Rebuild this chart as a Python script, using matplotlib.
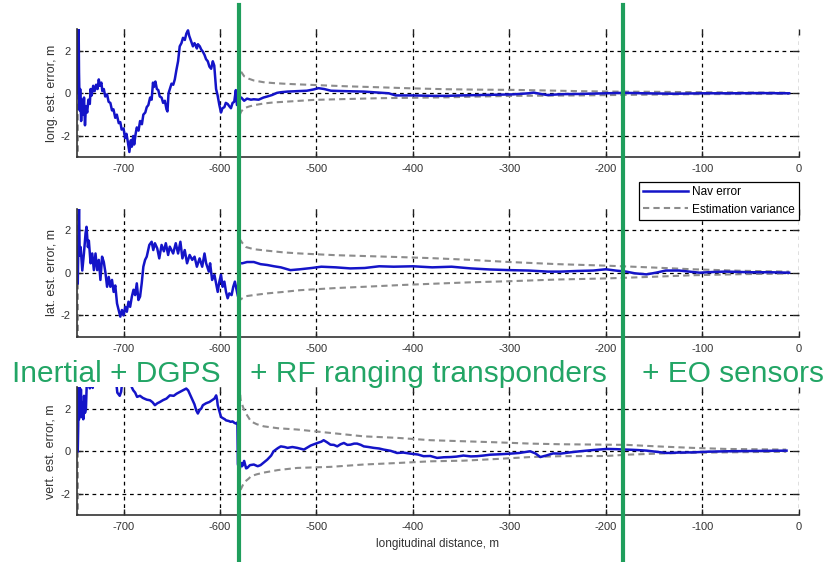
import matplotlib
matplotlib.use('Agg')
import matplotlib.pyplot as plt
from matplotlib.lines import Line2D
from matplotlib.transforms import blended_transform_factory

plt.rcParams['font.family'] = ['Liberation Sans', 'DejaVu Sans']
plt.rcParams['axes.unicode_minus'] = False

# --- datos ---
# longitudinal error (panel 1)
long_x = [-747.5, -747.0, -746.6, -746.2, -745.5, -745.0, -744.0, -743.0, -742.0, -741.0,
          -740.0, -739.0, -737.7, -736.5, -735.0, -734.2, -733.0, -731.5, -730.0, -728.5,
          -727.0, -725.7, -724.5, -723.0, -722.0, -720.5, -719.0, -717.1, -715.5, -713.7,
          -712.0, -710.5, -708.6, -707.0, -705.0, -703.4, -702.0, -700.0, -698.5, -697.0,
          -695.5, -694.0, -692.5, -691.4, -690.0, -689.0, -687.5, -686.3, -684.5, -682.9,
          -681.0, -679.5, -677.5, -676.0, -674.3, -672.5, -670.9, -669.5, -668.5, -667.0,
          -665.5, -664.0, -662.5, -660.6, -659.0, -657.2, -655.5, -654.5, -653.4, -652.0,
          -650.3, -648.5, -646.9, -645.2, -643.5, -641.8, -640.0, -638.4, -636.5, -634.9,
          -633.2, -632.0, -630.8, -629.5, -628.1, -626.5, -625.3, -624.0, -622.9, -621.0,
          -619.5, -617.8, -616.1, -614.5, -612.7, -611.0, -609.2, -607.5, -606.0, -604.8,
          -604.1, -602.5, -600.7, -599.0, -597.5, -595.5, -594.0, -592.1, -590.5, -588.7,
          -587.0, -585.3, -583.6, -582.5, -581.5, -580.5, -578.0, -575.0, -572.0, -568.0,
          -565.0, -560.0, -555.0, -551.0, -546.0, -541.0, -537.0, -530.0, -520.0, -510.0,
          -503.0, -498.0, -492.0, -485.0, -470.0, -451.0, -434.0, -425.0, -418.0, -400.0,
          -380.0, -365.0, -350.0, -330.0, -310.0, -296.0, -280.0, -275.0, -265.0, -261.0,
          -245.0, -227.0, -200.0, -182.0, -160.0, -130.0, -100.0, -70.0, -40.0, -10.0]
long_err = [0.0, 1.5, 3.2, 1.0, -0.8, 0.2, -1.3, -0.3, -1.0, -0.2,
            -1.5, -0.6, -0.9, -0.3, -0.5, 0.2, -0.1, 0.35, 0.1, 0.4,
            0.2, 0.65, 0.35, 0.5, 0.1, 0.2, -0.15, -0.05, -0.4, -0.45,
            -0.8, -0.75, -1.15, -1.0, -1.4, -1.35, -1.7, -1.65, -2.1, -1.9,
            -2.3, -2.75, -2.2, -2.5, -2.0, -2.4, -1.9, -1.6, -1.75, -1.3,
            -1.45, -1.0, -0.9, -0.65, -0.55, -0.2, -0.3, 0.5, 0.3, 0.55,
            0.2, 0.15, -0.15, -0.2, -0.45, -0.35, -0.75, -0.85, 0.0, 0.2,
            0.45, 0.4, 0.65, 1.1, 1.5, 2.2, 2.35, 2.6, 2.5, 2.8,
            2.95, 2.7, 2.55, 2.4, 2.2, 2.35, 2.25, 2.1, 2.3, 2.2,
            2.05, 1.95, 1.8, 1.6, 1.5, 1.25, 1.15, 1.5, 1.3, 0.6,
            0.2, -0.1, -0.55, -0.9, -0.7, -0.65, -0.45, -0.5, -0.6, -0.7,
            -0.45, -0.4, 0.15, -0.55, -0.5, -0.3, -0.2, -0.35, -0.25, -0.3,
            -0.28, -0.3, -0.2, -0.15, -0.08, 0.02, 0.05, 0.08, 0.1, 0.12,
            0.18, 0.24, 0.2, 0.12, 0.1, 0.08, 0.03, 0.0, -0.1, -0.1,
            -0.12, -0.12, -0.1, -0.08, -0.06, -0.05, 0.0, 0.03, -0.05, -0.08,
            -0.04, -0.03, 0.0, 0.02, 0.0, -0.02, 0.0, 0.0, 0.01, 0.0]
long_var_x = [-747.5, -745.0, -580.5, -580.0, -578.0, -575.0, -570.0, -565.0, -555.0, -545.0,
              -534.0, -520.0, -503.0, -470.0, -434.0, -400.0, -365.0, -330.0, -296.0, -260.0,
              -227.0, -190.0, -150.0, -100.0, -60.0, -10.0]
long_var_up = [0.0, 50.0, 50.0, 1.25, 1.0, 0.8, 0.68, 0.6, 0.52, 0.48,
               0.45, 0.42, 0.39, 0.33, 0.28, 0.23, 0.19, 0.17, 0.16, 0.13,
               0.1, 0.08, 0.07, 0.05, 0.04, 0.03]
long_var_lo = [0.0, -50.0, -50.0, -1.05, -0.85, -0.7, -0.62, -0.56, -0.48, -0.43,
               -0.4, -0.36, -0.31, -0.27, -0.23, -0.21, -0.19, -0.15, -0.12, -0.11,
               -0.1, -0.08, -0.06, -0.04, -0.035, -0.03]

# lateral error (panel 2)
lat_x = [-747.5, -747.0, -746.2, -745.5, -744.5, -742.8, -741.1, -739.4, -738.4, -737.0,
         -736.0, -734.2, -732.5, -730.8, -729.1, -727.4, -725.7, -724.0, -722.3, -720.5,
         -718.8, -717.1, -715.4, -713.7, -712.0, -710.3, -708.6, -706.8, -705.1, -703.4,
         -701.7, -700.0, -698.3, -696.6, -694.9, -693.2, -691.4, -689.7, -688.0, -686.3,
         -684.6, -682.9, -681.2, -679.5, -677.7, -676.0, -673.3, -670.9, -669.2, -667.5,
         -665.1, -663.0, -660.6, -658.2, -656.2, -653.8, -652.1, -648.6, -645.9, -643.5,
         -641.1, -639.0, -636.6, -634.2, -631.5, -628.8, -626.4, -624.0, -621.2, -618.5,
         -616.1, -614.4, -611.6, -610.3, -608.2, -605.8, -604.1, -602.4, -600.7, -599.0,
         -597.3, -595.5, -593.8, -592.1, -590.4, -588.0, -586.3, -584.6, -582.9, -581.5,
         -580.5, -577.0, -572.0, -565.0, -558.0, -551.0, -544.0, -537.0, -527.0, -517.0,
         -505.0, -495.0, -480.0, -465.0, -450.0, -435.0, -420.0, -400.0, -380.0, -360.0,
         -340.0, -320.0, -300.0, -280.0, -260.0, -247.0, -230.0, -213.0, -200.0, -190.0,
         -179.0, -170.0, -158.0, -148.0, -138.0, -124.0, -110.0, -103.0, -90.0, -76.0,
         -50.0, -30.0, -10.0]
lat_err = [-0.5, 1.0, 3.2, 0.8, 1.2, 0.1, 0.9, 1.85, 2.15, 1.2,
           1.5, 0.44, 0.9, 0.12, 0.9, 0.12, 0.6, -0.34, 0.75, 0.5,
           0.0, -0.66, -0.2, -0.66, -0.34, -0.9, -0.6, -1.44, -1.75, -2.06,
           -1.75, -2.0, -1.6, -1.83, -1.36, -1.6, -1.12, -0.8, -1.05, -0.5,
           -1.28, -1.12, -0.5, 0.28, 0.6, 0.75, 1.3, 1.45, 1.06, 1.38,
           1.14, 0.67, 1.3, 1.0, 1.38, 0.83, 1.22, 0.9, 1.38, 0.9,
           1.45, 0.67, 1.06, 0.44, 0.83, 0.6, 0.75, 0.28, 0.67, 0.28,
           0.9, 0.44, 0.05, 0.44, -0.34, -0.1, -0.5, -0.9, -0.42, -0.1,
           -0.66, -0.42, -0.9, -1.2, -0.97, -1.05, -0.66, -0.42, -0.8, -1.1,
           0.45, 0.44, 0.5, 0.5, 0.4, 0.36, 0.3, 0.25, 0.12, 0.16,
           0.22, 0.28, 0.25, 0.2, 0.22, 0.3, 0.28, 0.3, 0.25, 0.28,
           0.2, 0.15, 0.12, 0.1, 0.05, 0.05, 0.08, 0.1, 0.16, 0.1,
           0.05, -0.03, -0.08, 0.0, 0.1, 0.1, 0.03, 0.0, 0.03, 0.05,
           0.02, 0.02, 0.0]
lat_var_x = [-747.5, -745.0, -580.5, -580.0, -577.0, -573.0, -565.0, -551.0, -534.0, -517.0,
             -480.0, -450.0, -413.0, -380.0, -340.0, -300.0, -250.0, -200.0, -150.0, -110.0,
             -60.0, -10.0]
lat_var_up = [0.0, 50.0, 50.0, 1.6, 1.4, 1.2, 1.1, 1.03, 0.95, 0.9,
              0.82, 0.78, 0.73, 0.68, 0.6, 0.5, 0.4, 0.33, 0.24, 0.16,
              0.09, 0.05]
lat_var_lo = [0.0, -50.0, -50.0, -1.3, -1.2, -1.1, -1.05, -0.97, -0.9, -0.82,
              -0.72, -0.66, -0.58, -0.52, -0.45, -0.4, -0.32, -0.27, -0.19, -0.12,
              -0.07, -0.04]

# vertical error (panel 3)
vert_x = [-747.5, -747.0, -746.6, -746.2, -745.6, -745.0, -744.2, -743.4, -742.6, -741.8,
          -741.0, -740.0, -739.0, -738.0, -736.5, -735.0, -733.5, -732.0, -730.5, -710.0,
          -708.0, -706.5, -704.0, -702.5, -701.0, -693.0, -691.5, -690.0, -688.0, -686.0,
          -683.0, -680.0, -676.0, -672.6, -670.0, -667.5, -665.0, -662.3, -659.0, -655.5,
          -652.0, -648.0, -645.0, -641.0, -638.4, -635.0, -633.0, -631.5, -629.0, -626.5,
          -624.7, -623.0, -621.0, -619.5, -617.8, -614.5, -611.0, -608.0, -605.8, -604.0,
          -603.0, -602.4, -600.5, -599.0, -597.0, -595.0, -593.8, -591.0, -589.0, -587.0,
          -585.0, -583.6, -582.0, -581.5, -580.0, -578.0, -577.0, -575.0, -573.0, -571.8,
          -569.0, -565.0, -561.0, -558.0, -554.0, -551.0, -547.0, -544.5, -540.0, -537.0,
          -533.0, -530.0, -525.0, -520.0, -513.0, -506.0, -499.0, -495.0, -492.6, -489.0,
          -485.5, -482.0, -478.5, -475.0, -471.6, -468.0, -464.8, -461.0, -457.9, -454.0,
          -451.0, -446.0, -440.7, -435.0, -430.4, -423.0, -416.5, -410.0, -402.7, -395.0,
          -389.0, -382.0, -375.0, -368.0, -361.0, -355.0, -347.6, -340.0, -333.6, -327.0,
          -320.0, -310.0, -299.0, -290.0, -278.5, -273.0, -268.0, -262.0, -254.7, -247.0,
          -237.0, -227.0, -213.0, -199.0, -190.0, -178.0, -168.0, -157.7, -148.0, -137.0,
          -125.0, -109.5, -95.0, -75.0, -50.0, -12.7]
vert_err = [0.0, 1.2, 3.5, 1.5, 3.3, 1.7, 2.9, 1.6, 2.3, 1.5,
            2.6, 1.8, 2.0, 3.4, 3.5, 2.95, 3.3, 2.97, 3.5, 3.6,
            3.4, 2.75, 2.6, 2.8, 3.4, 3.5, 3.0, 2.86, 2.75, 2.55,
            2.6, 2.5, 2.42, 2.39, 2.3, 2.16, 2.25, 2.31, 2.4, 2.47,
            2.62, 2.6, 2.7, 2.8, 2.86, 2.94, 2.85, 2.7, 2.45, 2.2,
            1.92, 1.77, 1.95, 2.0, 2.16, 2.25, 2.31, 2.4, 2.47, 2.62,
            2.4, 2.16, 1.85, 1.61, 1.55, 1.5, 1.45, 1.42, 1.38, 1.4,
            1.33, 1.3, 1.35, -0.6, -0.9, -0.55, -0.7, -0.45, -0.8, -0.78,
            -0.65, -0.62, -0.7, -0.65, -0.5, -0.39, -0.2, 0.0, 0.15, 0.23,
            0.2, 0.16, 0.2, 0.16, 0.08, 0.27, 0.39, 0.45, 0.52, 0.42,
            0.31, 0.3, 0.23, 0.33, 0.39, 0.3, 0.31, 0.36, 0.36, 0.3,
            0.23, 0.2, 0.16, 0.13, 0.08, 0.02, -0.08, -0.06, -0.11, -0.15,
            -0.23, -0.22, -0.31, -0.28, -0.27, -0.25, -0.2, -0.24, -0.23, -0.2,
            -0.16, -0.14, -0.11, -0.08, 0.0, -0.1, -0.27, -0.2, -0.1, -0.11,
            -0.05, 0.0, 0.06, 0.11, 0.1, 0.08, 0.06, 0.03, -0.02, -0.08,
            -0.06, -0.05, -0.02, 0.0, 0.01, 0.03]
vert_var_x = [-747.5, -745.0, -580.5, -580.0, -578.7, -576.0, -573.5, -570.0, -568.0, -562.0,
              -554.8, -540.0, -520.0, -485.5, -451.0, -416.5, -382.0, -347.6, -313.0, -278.5,
              -247.0, -199.0, -178.0, -147.0, -110.0, -75.0, -13.0]
vert_var_up = [0.0, 50.0, 50.0, 3.2, 2.42, 2.05, 1.8, 1.55, 1.4, 1.27,
               1.17, 1.08, 1.02, 0.86, 0.7, 0.63, 0.52, 0.47, 0.42, 0.36,
               0.33, 0.31, 0.3, 0.23, 0.16, 0.11, 0.08]
vert_var_lo = [0.0, -50.0, -50.0, -2.6, -1.8, -1.55, -1.4, -1.27, -1.17, -1.08,
               -1.0, -0.88, -0.78, -0.73, -0.62, -0.55, -0.47, -0.44, -0.36, -0.27,
               -0.23, -0.22, -0.16, -0.11, -0.07, -0.05, -0.02]

panel_labels = ['long. est. error, m', 'lat. est. error, m', 'vert. est. error, m']
x_ticks = [-700, -600, -500, -400, -300, -200, -100, 0]
y_ticks = [-2, 0, 2]
sensor_switch = [-580, -182]   # donde se agregan RF y EO
phase_names = ['Inertial + DGPS', '+ RF ranging transponders', '+ EO sensors']

panels = [(long_x, long_err, long_var_x, long_var_up, long_var_lo),
          (lat_x, lat_err, lat_var_x, lat_var_up, lat_var_lo),
          (vert_x, vert_err, vert_var_x, vert_var_up, vert_var_lo)]

nav_color = '#1414c8'
var_color = '#8c8c8c'
green = '#1f9e5c'

fig = plt.figure(figsize=(8.3, 5.62), dpi=100)
bottoms = [0.7201, 0.4009, 0.0831]
axes = []
for i, (nx, ny, vx, vu, vl) in enumerate(panels):
    ax = fig.add_axes([0.0931, bottoms[i], 0.8693, 0.2278])
    var_line, = ax.plot(vx, vu, color=var_color, lw=1.5, ls=(0, (3, 2)))
    ax.plot(vx, vl, color=var_color, lw=1.5, ls=(0, (3, 2)))
    nav_line, = ax.plot(nx, ny, color=nav_color, lw=1.8)
    ax.set_xlim(-748, 0)
    ax.set_ylim(-3, 3)
    ax.set_xticks(x_ticks)
    ax.set_yticks(y_ticks)
    ax.grid(True, color='black', ls=(0, (3, 3)), lw=0.9)
    for s in ['top', 'right']:
        ax.spines[s].set_visible(False)
    for s in ['left', 'bottom']:
        ax.spines[s].set_color('#333333')
        ax.spines[s].set_linewidth(1.2)
    ax.tick_params(direction='in', top=True, right=True, length=4, width=1,
                   color='#222222', labelsize=8, labelcolor='#333333', pad=5)
    ax.set_ylabel(panel_labels[i], fontsize=9, color='#333333', labelpad=2)
    axes.append(ax)

axes[2].set_xlabel('longitudinal distance, m', fontsize=8.5, color='#333333', labelpad=4)

# leyenda
leg = fig.legend([nav_line, var_line], ['Nav error', 'Estimation variance'],
                 loc='upper right', bbox_to_anchor=(0.963, 0.677), fontsize=8.5,
                 fancybox=False, edgecolor='black', framealpha=1, borderaxespad=0,
                 handlelength=3.8, handletextpad=0.3, labelspacing=0.45, borderpad=0.4)
leg.get_frame().set_linewidth(0.9)

# lineas verdes de cambio de sensores
trans = blended_transform_factory(axes[2].transData, fig.transFigure)
for xs in sensor_switch:
    fig.add_artist(Line2D([xs, xs], [0.0, 0.991], transform=trans, color=green,
                          lw=3, zorder=10, clip_on=False))

# textos de las fases
phase_x = [0.140, 0.516, 0.883]
for name, px in zip(phase_names, phase_x):
    fig.text(px, 0.320, name, color='#22a565', fontsize=21.5, ha='center',
             va='baseline', zorder=11)

plt.savefig('out.png', dpi=100)
